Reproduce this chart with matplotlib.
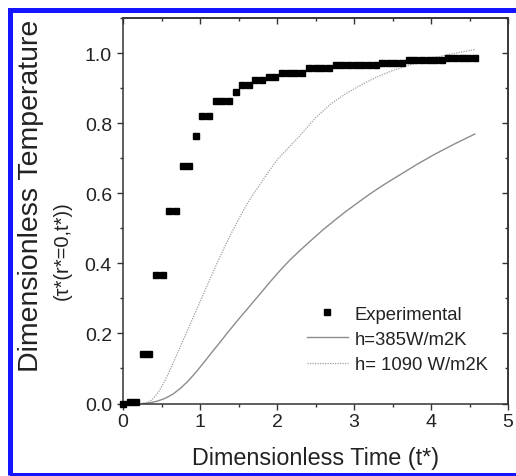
import matplotlib
matplotlib.use("Agg")
import matplotlib.pyplot as plt
from matplotlib.ticker import MultipleLocator
from matplotlib.patches import Rectangle

plt.rcParams['font.family'] = ['Liberation Sans', 'DejaVu Sans']

# experimental points
t_exp = [0.00, 0.09, 0.17, 0.26, 0.34, 0.43, 0.52, 0.60, 0.69, 0.78,
         0.86, 0.95, 1.03, 1.12, 1.21, 1.29, 1.38, 1.47, 1.55, 1.64,
         1.72, 1.81, 1.90, 1.98, 2.07, 2.16, 2.24, 2.33, 2.41, 2.50,
         2.59, 2.67, 2.76, 2.84, 2.93, 3.02, 3.10, 3.19, 3.28, 3.36,
         3.45, 3.53, 3.62, 3.71, 3.79, 3.88, 3.97, 4.05, 4.14, 4.22,
         4.31, 4.40, 4.48, 4.57]
T_exp = [0.000, 0.005, 0.005, 0.142, 0.142, 0.366, 0.366, 0.548, 0.548, 0.678,
         0.678, 0.762, 0.821, 0.821, 0.862, 0.862, 0.862, 0.889, 0.909, 0.909,
         0.923, 0.923, 0.933, 0.933, 0.944, 0.944, 0.944, 0.944, 0.957, 0.957,
         0.957, 0.957, 0.967, 0.967, 0.967, 0.967, 0.967, 0.967, 0.967, 0.973,
         0.973, 0.973, 0.973, 0.981, 0.981, 0.981, 0.981, 0.981, 0.981, 0.985,
         0.985, 0.985, 0.985, 0.985]

# model, h = 385 W/m2K
t_385 = [0.25, 0.35, 0.45, 0.55, 0.65, 0.75, 0.85, 0.95, 1.05, 1.15,
         1.25, 1.35, 1.48, 1.60, 1.75, 1.91, 2.05, 2.17, 2.30, 2.45,
         2.60, 2.75, 2.90, 3.05, 3.20, 3.40, 3.60, 3.80, 4.03, 4.30, 4.57]
T_385 = [0.000, 0.002, 0.007, 0.015, 0.027, 0.044, 0.065, 0.090, 0.117, 0.145,
         0.172, 0.200, 0.235, 0.266, 0.305, 0.347, 0.382, 0.410, 0.437, 0.467,
         0.496, 0.523, 0.549, 0.573, 0.597, 0.626, 0.653, 0.680, 0.709, 0.740, 0.769]

# model, h = 1090 W/m2K
t_1090 = [0.30, 0.38, 0.46, 0.54, 0.62, 0.70, 0.80, 0.90, 1.00, 1.10,
          1.20, 1.30, 1.40, 1.50, 1.60, 1.70, 1.80, 1.90, 2.00, 2.15,
          2.30, 2.50, 2.70, 2.90, 3.10, 3.30, 3.50, 3.75, 4.00, 4.30, 4.57]
T_1090 = [0.000, 0.011, 0.032, 0.063, 0.100, 0.140, 0.190, 0.240, 0.290, 0.340,
          0.390, 0.438, 0.483, 0.525, 0.565, 0.600, 0.632, 0.664, 0.695, 0.730,
          0.765, 0.815, 0.855, 0.885, 0.910, 0.932, 0.950, 0.968, 0.985, 0.999, 1.010]

W, H = 516, 477
fig = plt.figure(figsize=(W / 100, H / 100), dpi=100)
ax = fig.add_axes([123 / W, 1 - 404.5 / H, 385 / W, 385.5 / H])

ax.plot(t_exp, T_exp, 's', color='black', markersize=4.7, clip_on=False,
        label='Experimental', zorder=3)
ax.plot(t_385, T_385, '-', color='#8c8c8c', lw=1.0, label='h=385W/m2K')
ax.plot(t_1090, T_1090, linestyle=(0, (1, 1)), color='#a0a0a0', lw=0.9,
        label='h= 1090 W/m2K')

ax.set_xlim(0, 5)
ax.set_ylim(0, 1.1)
ax.xaxis.set_major_locator(MultipleLocator(1))
ax.xaxis.set_minor_locator(MultipleLocator(0.5))
ax.yaxis.set_major_locator(MultipleLocator(0.2))
ax.yaxis.set_minor_locator(MultipleLocator(0.1))
ax.yaxis.set_major_formatter(plt.FormatStrFormatter('%.1f'))

axis_col = '#333333'
for s in ax.spines.values():
    s.set_color(axis_col)
    s.set_linewidth(1.1)
ax.tick_params(which='both', direction='out', colors=axis_col, labelcolor='#222222',
               labelsize=14, width=1.0)
ax.tick_params(which='major', length=4)
ax.tick_params(which='minor', length=2.5)
ax.tick_params(axis='x', pad=3)
ax.tick_params(axis='y', pad=4)

# mirrored ticks pointing inward
top = ax.secondary_xaxis('top')
right = ax.secondary_yaxis('right')
top.xaxis.set_major_locator(MultipleLocator(1))
top.xaxis.set_minor_locator(MultipleLocator(0.5))
right.yaxis.set_major_locator(MultipleLocator(0.2))
right.yaxis.set_minor_locator(MultipleLocator(0.1))
for sec in (top, right):
    sec.tick_params(which='both', direction='in', colors=axis_col, width=1.0,
                    labeltop=False, labelright=False)
    sec.tick_params(which='major', length=4)
    sec.tick_params(which='minor', length=2.5)
    for s in sec.spines.values():
        s.set_color(axis_col)
        s.set_linewidth(1.1)

leg = ax.legend(loc='upper left', bbox_to_anchor=(0.478, 0.254), frameon=False,
                fontsize=13.3, numpoints=1, handlelength=2.2, handletextpad=0.38,
                labelspacing=0.45, borderpad=0, borderaxespad=0)
for txt in leg.get_texts():
    txt.set_color('#222222')

# axis titles
fig.text(316 / W, 1 - 465.5 / H, 'Dimensionless Time (t*)', ha='center', va='baseline',
         fontsize=16.8, color='#222222')
fig.text(38 / W, 1 - 196 / H, 'Dimensionless Temperature', rotation=90,
         rotation_mode='anchor', ha='center', va='baseline', fontsize=20.5, color='#222222')
fig.text(68 / W, 1 - 251 / H, '(τ*(r*=0,t*))', rotation=90,
         rotation_mode='anchor', ha='center', va='baseline', fontsize=14.5, color='#222222')

# blue frame round the figure
fig.add_artist(Rectangle((9.5 / W, 1 - 475.5 / H), (530 - 9.5) / W, (475.5 - 10.8) / H,
                         transform=fig.transFigure, fill=False, edgecolor='#1414ff',
                         lw=3.6, clip_on=False))

fig.savefig('out.png', dpi=100)
